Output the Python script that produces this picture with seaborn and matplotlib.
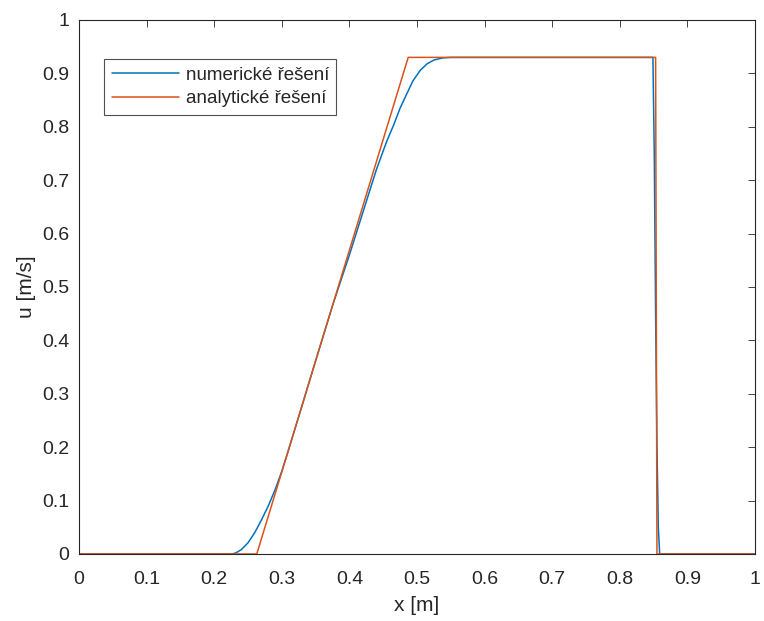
import matplotlib
matplotlib.use("Agg")
import matplotlib.pyplot as plt
import seaborn as sns
import pandas as pd

# numerical solution
x_num = [0.0, 0.20, 0.226, 0.232, 0.24, 0.25, 0.26, 0.27, 0.28, 0.29,
         0.30, 0.31, 0.33, 0.35, 0.375, 0.40, 0.42, 0.44, 0.455, 0.466,
         0.475, 0.485, 0.494, 0.505, 0.515, 0.525, 0.538, 0.55, 0.849,
         0.851, 0.853, 0.855, 0.857, 0.859, 1.0]
u_num = [0.0, 0.0, 0.0, 0.002, 0.008, 0.021, 0.04, 0.064, 0.09, 0.12,
         0.155, 0.195, 0.278, 0.362, 0.465, 0.56, 0.64, 0.72, 0.772, 0.805,
         0.835, 0.862, 0.886, 0.906, 0.918, 0.925, 0.929, 0.93, 0.93,
         0.75, 0.45, 0.2, 0.05, 0.0, 0.0]

# analytical solution
x_an = [0.0, 0.263, 0.487, 0.853, 0.855, 1.0]
u_an = [0.0, 0.0, 0.93, 0.93, 0.0, 0.0]

labels = ["numerické řešení", "analytické řešení"]
xticks = [0, 0.1, 0.2, 0.3, 0.4, 0.5, 0.6, 0.7, 0.8, 0.9, 1]
yticks = [0, 0.1, 0.2, 0.3, 0.4, 0.5, 0.6, 0.7, 0.8, 0.9, 1]

sns.set_style("white")
plt.rcParams['font.family'] = ['Liberation Sans', 'DejaVu Sans']

fig = plt.figure(figsize=(7.64, 6.21), dpi=100)
ax = fig.add_axes([0.1034, 0.1079, 0.8848, 0.8599])

df_num = pd.DataFrame({"x": x_num, "u": u_num})
df_an = pd.DataFrame({"x": x_an, "u": u_an})
sns.lineplot(data=df_num, x="x", y="u", ax=ax, color="#0072BD", lw=1.1,
             sort=False, estimator=None, label=labels[0])
sns.lineplot(data=df_an, x="x", y="u", ax=ax, color="#D95319", lw=1.1,
             sort=False, estimator=None, label=labels[1])

ax.set_xlim(0, 1)
ax.set_ylim(0, 1)
ax.set_xticks(xticks)
ax.set_yticks(yticks)
ax.set_xticklabels([f"{t:g}" for t in xticks])
ax.set_yticklabels([f"{t:g}" for t in yticks])
dark = "#262626"
ax.tick_params(direction="in", length=5, width=0.6, colors=dark,
               labelsize=14, top=True, right=True)
ax.tick_params(axis="x", pad=12)
ax.tick_params(axis="y", pad=7)
for s in ax.spines.values():
    s.set_visible(True)
    s.set_color(dark)
    s.set_linewidth(0.8)
ax.set_xlabel("x [m]", fontsize=15, color=dark, labelpad=6)
ax.set_ylabel("u [m/s]", fontsize=15, color=dark, labelpad=4)

leg = ax.legend(loc="upper left", bbox_to_anchor=(0.037, 0.927), fontsize=13.5,
                frameon=True, fancybox=False, borderaxespad=0,
                handlelength=3.6, handletextpad=0.35, borderpad=0.4,
                labelspacing=0.35)
leg.get_frame().set_edgecolor(dark)
leg.get_frame().set_linewidth(0.8)

fig.savefig("out.png", dpi=100, facecolor="white")
